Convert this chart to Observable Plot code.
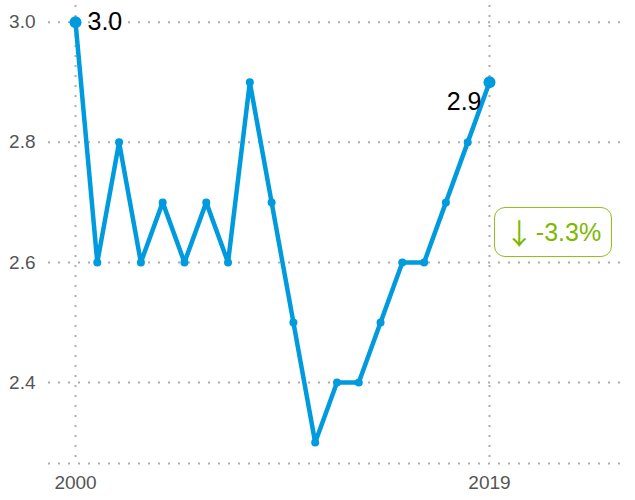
<!DOCTYPE html>
<html><head><meta charset="utf-8">
<script src="https://cdn.jsdelivr.net/npm/d3@7"></script>
<script src="https://cdn.jsdelivr.net/npm/@observablehq/plot@0.6"></script>
<style>
body{margin:0;background:#fff;font-family:"Liberation Sans",Arial,sans-serif;}
#wrap{position:relative;width:635px;height:500px;}
#badge{position:absolute;left:494px;top:207px;width:116px;height:48px;border:1.5px solid #8cc21a;border-radius:11px;color:#7cb800;font-size:25px;display:flex;align-items:center;justify-content:center;box-sizing:content-box;}
#badge .arr{font-family:"Noto Sans CJK SC","DejaVu Sans",sans-serif;font-size:29px;margin-right:2px;line-height:1;}
</style></head>
<body><div id="wrap"></div>
<script>
const years = [2000,2001,2002,2003,2004,2005,2006,2007,2008,2009,2010,2011,2012,2013,2014,2015,2016,2017,2018,2019];
const values = [3.0,2.6,2.8,2.6,2.7,2.6,2.7,2.6,2.9,2.7,2.5,2.3,2.4,2.4,2.5,2.6,2.6,2.7,2.8,2.9];
const yTicks = [2.4,2.6,2.8,3.0];
const xTicks = [2000,2019];
const changeArrow = "↓";
const changeText = "-3.3%";

const data = years.map((y,i)=>({year:y,value:values[i]}));
const first = data[0], last = data[data.length-1];
const grid = {stroke:"#999", strokeOpacity:0.8, strokeWidth:2, strokeDasharray:"2 8"};

const chart = Plot.plot({
  width:635, height:500,
  marginLeft:48, marginRight:7, marginTop:5, marginBottom:37,
  style:{fontFamily:"'Liberation Sans', Arial, sans-serif", fontSize:"19px", color:"#555", background:"transparent"},
  x:{domain:[1998.76,2025.38], ticks:xTicks, tickFormat:"d", tickSize:0, tickPadding:12, label:null},
  y:{domain:[2.265,3.028], ticks:yTicks, tickFormat:d3.format(".1f"), tickSize:0, tickPadding:13, label:null},
  marks:[
    Plot.gridY(yTicks, {...grid}),
    Plot.ruleY([2.265], {...grid}),
    Plot.gridX(xTicks, {...grid}),
    Plot.line(data,{x:"year",y:"value",stroke:"#009ade",strokeWidth:4.5}),
    Plot.dot(data.slice(1,-1),{x:"year",y:"value",fill:"#009ade",r:4}),
    Plot.dot([first,last],{x:"year",y:"value",fill:"#009ade",r:6}),
    Plot.text([first],{x:"year",y:"value",text:d=>d.value.toFixed(1),textAnchor:"start",dx:12,fontSize:25,fill:"#000"}),
    Plot.text([last],{x:"year",y:"value",text:d=>d.value.toFixed(1),textAnchor:"end",dx:-8,dy:20,fontSize:25,fill:"#000"})
  ]
});
document.getElementById("wrap").appendChild(chart);
const b=document.createElement("div");b.id="badge";
const a=document.createElement("span");a.className="arr";a.textContent=changeArrow;
const t=document.createElement("span");t.textContent=changeText;
b.appendChild(a);b.appendChild(t);
document.getElementById("wrap").appendChild(b);
</script></body></html>
